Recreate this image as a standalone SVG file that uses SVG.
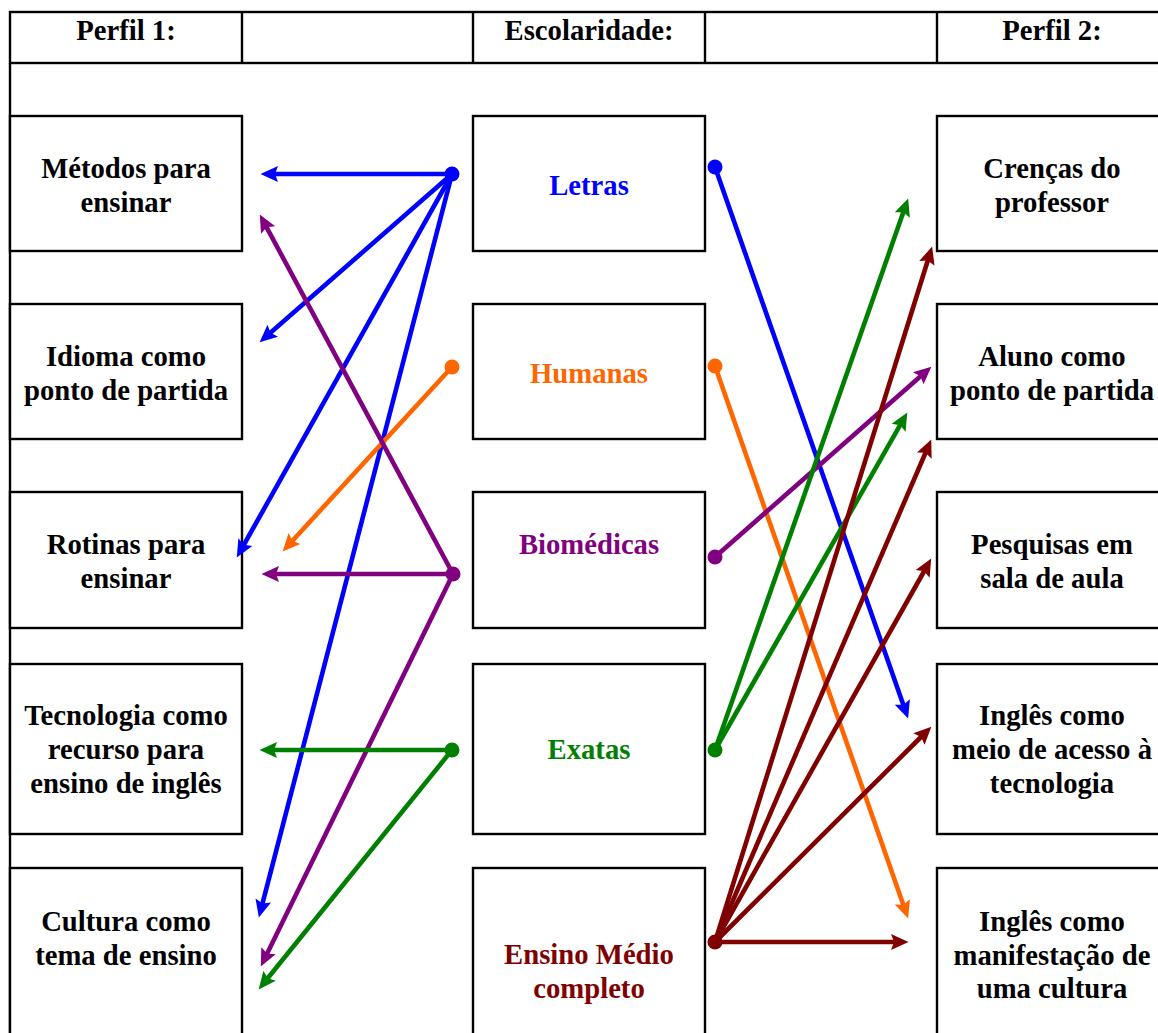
<svg xmlns="http://www.w3.org/2000/svg" width="1158" height="1033" viewBox="0 0 1158 1033">
  <style>
    .cell { fill: #ffffff; stroke: #000000; stroke-width: 2.4; }
    .grid { fill: none; stroke: #000000; stroke-width: 2.4; }
    text { font-family: "Liberation Serif", "Times New Roman", serif; font-weight: bold; font-size: 28.7px; text-anchor: middle; }
    .lbl { fill: #000000; }
    .c-blue { stroke: #0000ff; fill: #0000ff; }
    .c-orange { stroke: #ff6600; fill: #ff6600; }
    .c-purple { stroke: #800080; fill: #800080; }
    .c-green { stroke: #008000; fill: #008000; }
    .c-maroon { stroke: #800000; fill: #800000; }
    .link line { stroke-width: 4.6; fill: none; }
    .link circle { stroke: none; }
  </style>
  <defs>
    <marker id="ah-blue" markerUnits="userSpaceOnUse" markerWidth="26" markerHeight="22" viewBox="-7 -11 22 22" refX="0" refY="0" orient="auto">
      <path d="M-5,-8 L12.5,0 L-5,8 L-2,0 Z" fill="#0000ff"/>
    </marker>
    <marker id="ah-orange" markerUnits="userSpaceOnUse" markerWidth="26" markerHeight="22" viewBox="-7 -11 22 22" refX="0" refY="0" orient="auto">
      <path d="M-5,-8 L12.5,0 L-5,8 L-2,0 Z" fill="#ff6600"/>
    </marker>
    <marker id="ah-purple" markerUnits="userSpaceOnUse" markerWidth="26" markerHeight="22" viewBox="-7 -11 22 22" refX="0" refY="0" orient="auto">
      <path d="M-5,-8 L12.5,0 L-5,8 L-2,0 Z" fill="#800080"/>
    </marker>
    <marker id="ah-green" markerUnits="userSpaceOnUse" markerWidth="26" markerHeight="22" viewBox="-7 -11 22 22" refX="0" refY="0" orient="auto">
      <path d="M-5,-8 L12.5,0 L-5,8 L-2,0 Z" fill="#008000"/>
    </marker>
    <marker id="ah-maroon" markerUnits="userSpaceOnUse" markerWidth="26" markerHeight="22" viewBox="-7 -11 22 22" refX="0" refY="0" orient="auto">
      <path d="M-5,-8 L12.5,0 L-5,8 L-2,0 Z" fill="#800000"/>
    </marker>
  </defs>

  <rect width="1158" height="1033" fill="#ffffff"/>

  <!-- header row -->
  <g id="header">
    <rect class="cell" x="10" y="12" width="1158" height="51"/>
    <line class="grid" x1="242" y1="12" x2="242" y2="63"/>
    <line class="grid" x1="473" y1="12" x2="473" y2="63"/>
    <line class="grid" x1="705" y1="12" x2="705" y2="63"/>
    <line class="grid" x1="937" y1="12" x2="937" y2="63"/>
    <line class="grid" x1="10" y1="63" x2="10" y2="1040"/>
    <text class="lbl" x="126" y="40">Perfil 1:</text>
    <text class="lbl" x="589" y="40">Escolaridade:</text>
    <text class="lbl" x="1052" y="40">Perfil 2:</text>
  </g>

  <!-- Perfil 1 column -->
  <g id="metodos">
    <rect class="cell" x="10" y="116" width="232" height="135"/>
    <text class="lbl" x="126" y="178">Métodos para</text>
    <text class="lbl" x="126" y="212">ensinar</text>
  </g>
  <g id="idioma">
    <rect class="cell" x="10" y="304" width="232" height="135"/>
    <text class="lbl" x="126" y="366">Idioma como</text>
    <text class="lbl" x="126" y="400">ponto de partida</text>
  </g>
  <g id="rotinas">
    <rect class="cell" x="10" y="492" width="232" height="136"/>
    <text class="lbl" x="126" y="554">Rotinas para</text>
    <text class="lbl" x="126" y="588">ensinar</text>
  </g>
  <g id="tecnologia">
    <rect class="cell" x="10" y="664" width="232" height="170"/>
    <text class="lbl" x="126" y="725">Tecnologia como</text>
    <text class="lbl" x="126" y="759">recurso para</text>
    <text class="lbl" x="126" y="793">ensino de inglês</text>
  </g>
  <g id="cultura">
    <rect class="cell" x="10" y="868" width="232" height="175"/>
    <text class="lbl" x="126" y="931">Cultura como</text>
    <text class="lbl" x="126" y="965">tema de ensino</text>
  </g>

  <!-- Escolaridade column -->
  <g id="letras">
    <rect class="cell" x="473" y="116" width="232" height="135"/>
    <text x="589" y="195" fill="#0000ff">Letras</text>
  </g>
  <g id="humanas">
    <rect class="cell" x="473" y="304" width="232" height="135"/>
    <text x="589" y="383" fill="#ff6600">Humanas</text>
  </g>
  <g id="biomedicas">
    <rect class="cell" x="473" y="492" width="232" height="136"/>
    <text x="589" y="554" fill="#800080">Biomédicas</text>
  </g>
  <g id="exatas">
    <rect class="cell" x="473" y="664" width="232" height="170"/>
    <text x="589" y="759" fill="#008000">Exatas</text>
  </g>
  <g id="ensino-medio">
    <rect class="cell" x="473" y="868" width="232" height="175"/>
    <text x="589" y="964" fill="#800000">Ensino Médio</text>
    <text x="589" y="998" fill="#800000">completo</text>
  </g>

  <!-- Perfil 2 column -->
  <g id="crencas">
    <rect class="cell" x="937" y="116" width="231" height="135"/>
    <text class="lbl" x="1052" y="178">Crenças do</text>
    <text class="lbl" x="1052" y="212">professor</text>
  </g>
  <g id="aluno">
    <rect class="cell" x="937" y="304" width="231" height="135"/>
    <text class="lbl" x="1052" y="366">Aluno como</text>
    <text class="lbl" x="1052" y="400">ponto de partida</text>
  </g>
  <g id="pesquisas">
    <rect class="cell" x="937" y="492" width="231" height="136"/>
    <text class="lbl" x="1052" y="554">Pesquisas em</text>
    <text class="lbl" x="1052" y="588">sala de aula</text>
  </g>
  <g id="ingles-tecnologia">
    <rect class="cell" x="937" y="664" width="231" height="170"/>
    <text class="lbl" x="1052" y="725">Inglês como</text>
    <text class="lbl" x="1052" y="759">meio de acesso à</text>
    <text class="lbl" x="1052" y="793">tecnologia</text>
  </g>
  <g id="ingles-cultura">
    <rect class="cell" x="937" y="868" width="231" height="175"/>
    <text class="lbl" x="1052" y="931">Inglês como</text>
    <text class="lbl" x="1052" y="965">manifestação de</text>
    <text class="lbl" x="1052" y="998">uma cultura</text>
  </g>

  <!-- connectors: each line stops short of its tip; the marker draws the head -->
  <g id="connectors" class="link">
    <g class="c-blue">
      <line x1="452" y1="174" x2="273" y2="174" marker-end="url(#ah-blue)"/>
      <line x1="452" y1="174" x2="269.0" y2="334.1" marker-end="url(#ah-blue)"/>
      <line x1="452" y1="174" x2="242.9" y2="546.5" marker-end="url(#ah-blue)"/>
      <line x1="452" y1="174" x2="262.0" y2="905.4" marker-end="url(#ah-blue)"/>
      <line x1="715" y1="167" x2="904.0" y2="706.7" marker-end="url(#ah-blue)"/>
      <circle cx="452" cy="174" r="7.5"/>
      <circle cx="715" cy="167" r="7.5"/>
    </g>
    <g class="c-orange">
      <line x1="452" y1="367" x2="291.1" y2="542.2" marker-end="url(#ah-orange)"/>
      <line x1="715" y1="366" x2="904.0" y2="906.7" marker-end="url(#ah-orange)"/>
      <circle cx="452" cy="367" r="7.5"/>
      <circle cx="715" cy="366" r="7.5"/>
    </g>
    <g class="c-purple">
      <line x1="453" y1="574" x2="274" y2="574" marker-end="url(#ah-purple)"/>
      <line x1="453" y1="574" x2="265.7" y2="225.6" marker-end="url(#ah-purple)"/>
      <line x1="453" y1="574" x2="266.3" y2="955.2" marker-end="url(#ah-purple)"/>
      <line x1="715" y1="557" x2="922.0" y2="374.9" marker-end="url(#ah-purple)"/>
      <circle cx="453" cy="574" r="7.5"/>
      <circle cx="715" cy="557" r="7.5"/>
    </g>
    <g class="c-green">
      <line x1="452" y1="750" x2="272" y2="750" marker-end="url(#ah-green)"/>
      <line x1="452" y1="750" x2="266.5" y2="979.7" marker-end="url(#ah-green)"/>
      <line x1="715" y1="750" x2="904.0" y2="210.3" marker-end="url(#ah-green)"/>
      <line x1="715" y1="750" x2="901.1" y2="423.4" marker-end="url(#ah-green)"/>
      <circle cx="452" cy="750" r="7.5"/>
      <circle cx="715" cy="750" r="7.5"/>
    </g>
    <g class="c-maroon">
      <line x1="715" y1="942" x2="928.4" y2="258.5" marker-end="url(#ah-maroon)"/>
      <line x1="715" y1="942" x2="926.3" y2="451.0" marker-end="url(#ah-maroon)"/>
      <line x1="715" y1="942" x2="925.1" y2="569.5" marker-end="url(#ah-maroon)"/>
      <line x1="715" y1="942" x2="922.5" y2="735.5" marker-end="url(#ah-maroon)"/>
      <line x1="715" y1="942" x2="896" y2="942" marker-end="url(#ah-maroon)"/>
      <circle cx="715" cy="942" r="7.5"/>
    </g>
  </g>
</svg>
